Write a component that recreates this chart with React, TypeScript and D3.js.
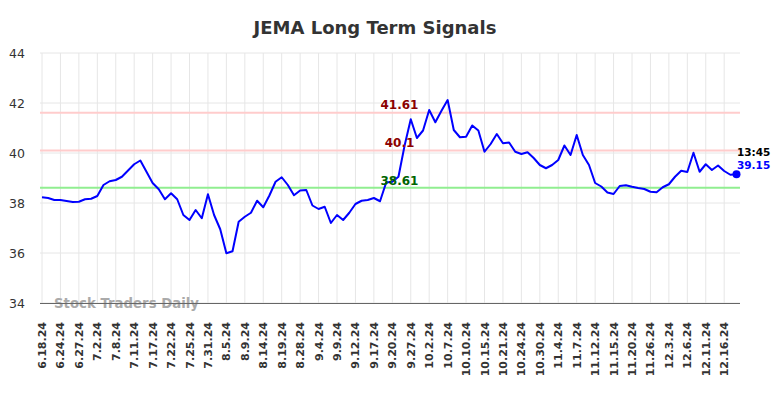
import React from "react";
import * as d3 from "d3";

const tickLabels = [
  "6.18.24", "6.24.24", "6.27.24", "7.2.24", "7.8.24", "7.11.24", "7.17.24", "7.22.24",
  "7.25.24", "7.31.24", "8.5.24", "8.9.24", "8.14.24", "8.19.24", "8.28.24", "9.4.24",
  "9.9.24", "9.12.24", "9.17.24", "9.20.24", "9.27.24", "10.2.24", "10.7.24", "10.10.24",
  "10.15.24", "10.21.24", "10.24.24", "10.30.24", "11.4.24", "11.7.24", "11.12.24", "11.15.24",
  "11.20.24", "11.26.24", "12.3.24", "12.6.24", "12.11.24", "12.16.24",
];

const prices = [
  38.23, 38.2, 38.12, 38.12, 38.08, 38.04, 38.05, 38.15, 38.17, 38.28,
  38.72, 38.87, 38.92, 39.05, 39.3, 39.55, 39.7, 39.25, 38.8, 38.55,
  38.15, 38.39, 38.15, 37.52, 37.32, 37.72, 37.39, 38.35, 37.52, 36.95,
  35.99, 36.07, 37.25, 37.45, 37.61, 38.09, 37.83, 38.3, 38.85, 39.03,
  38.72, 38.31, 38.5, 38.52, 37.9, 37.76, 37.85, 37.2, 37.52, 37.32,
  37.61, 37.96, 38.09, 38.12, 38.2, 38.07, 38.82, 38.85, 39.05, 40.3,
  41.35, 40.6, 40.9, 41.72, 41.23, 41.69, 42.12, 40.92, 40.63, 40.65,
  41.1, 40.9, 40.05, 40.36, 40.76, 40.39, 40.42, 40.05, 39.96, 40.03,
  39.8, 39.52, 39.39, 39.52, 39.72, 40.3, 39.92, 40.72, 39.92, 39.52,
  38.8, 38.66, 38.42, 38.36, 38.68, 38.71, 38.65, 38.6, 38.56, 38.45,
  38.43, 38.63, 38.75, 39.05, 39.29, 39.24, 40.01, 39.25, 39.55, 39.32,
  39.5, 39.28, 39.13, 39.15,
];

const yTicks = [34, 36, 38, 40, 42, 44];
const upperSignal = 41.61;
const middleSignal = 40.1;
const lowerSignal = 38.61;
const lastTime = "13:45";
const lastPrice = 39.15;

const W = 784;
const H = 398;
const plotLeft = 40;
const plotRight = 740;

export default function App() {
  const x = d3.scaleLinear().domain([0, 111]).range([42, 724.2]);
  const y = d3.scaleLinear().domain([34, 44]).range([303, 53]);
  const line = d3
    .line<number>()
    .x((_, i) => x(i))
    .y((d) => y(d));
  const lastIdx = prices.length - 1;
  const font = "'DejaVu Sans', sans-serif";

  return (
    <svg
      width={W}
      height={H}
      style={{ position: "absolute", left: 0, top: 0, background: "#fff" }}
      fontFamily={font}
    >
      <text x={375} y={33.5} textAnchor="middle" fontSize={18} fontWeight="bold" fill="#333">
        JEMA Long Term Signals
      </text>

      {/* horizontal grid */}
      {yTicks.map((t) => (
        <line key={"h" + t} x1={plotLeft} x2={plotRight} y1={y(t)} y2={y(t)} stroke="#e6e6e6" strokeWidth={1} />
      ))}
      {/* vertical grid */}
      {tickLabels.map((lab, k) => (
        <line key={"v" + lab} x1={x(k * 3)} x2={x(k * 3)} y1={y(44)} y2={y(34)} stroke="#e6e6e6" strokeWidth={1} />
      ))}

      {/* y labels */}
      {yTicks.map((t) => (
        <text key={"yl" + t} x={25} y={y(t) + 5} textAnchor="end" fontSize={12.5} fill="#333">
          {t}
        </text>
      ))}

      {/* x labels */}
      {tickLabels.map((lab, k) => (
        <text
          key={"xl" + lab}
          transform={`translate(${x(k * 3) + 4},322) rotate(-90)`}
          textAnchor="end"
          fontSize={11}
          fontWeight="bold"
          fill="#333"
        >
          {lab}
        </text>
      ))}

      {/* signal lines */}
      <line x1={plotLeft} x2={plotRight} y1={y(upperSignal)} y2={y(upperSignal)} stroke="#ffcccc" strokeWidth={2} />
      <line x1={plotLeft} x2={plotRight} y1={y(middleSignal)} y2={y(middleSignal)} stroke="#ffcccc" strokeWidth={2} />
      <line x1={plotLeft} x2={plotRight} y1={y(lowerSignal)} y2={y(lowerSignal)} stroke="#90ee90" strokeWidth={2} />

      {/* watermark */}
      <text x={54} y={308} fontSize={13.3} fontWeight="bold" fill="#aaa">
        Stock Traders Daily
      </text>

      {/* axis line */}
      <line x1={plotLeft} x2={plotRight} y1={303.5} y2={303.5} stroke="#666" strokeWidth={1} />

      {/* price line */}
      <path d={line(prices) || ""} fill="none" stroke="#0000ff" strokeWidth={2} strokeLinejoin="round" />
      <circle cx={x(lastIdx)} cy={y(lastPrice)} r={4} fill="#0000ff" />

      {/* signal labels */}
      <text x={399.5} y={y(upperSignal) - 3.5} textAnchor="middle" fontSize={12} fontWeight="bold" fill="#8b0000">
        {upperSignal}
      </text>
      <text x={399.5} y={y(middleSignal) - 3.5} textAnchor="middle" fontSize={12} fontWeight="bold" fill="#8b0000">
        {middleSignal}
      </text>
      <text x={399.5} y={y(lowerSignal) - 2.5} textAnchor="middle" fontSize={12} fontWeight="bold" fill="#006400">
        {lowerSignal}
      </text>

      {/* last value labels */}
      <text x={737} y={155.5} fontSize={10.5} fontWeight="bold" fill="#000">
        {lastTime}
      </text>
      <text x={737} y={168.5} fontSize={10.5} fontWeight="bold" fill="#0000ff">
        {lastPrice}
      </text>
    </svg>
  );
}
